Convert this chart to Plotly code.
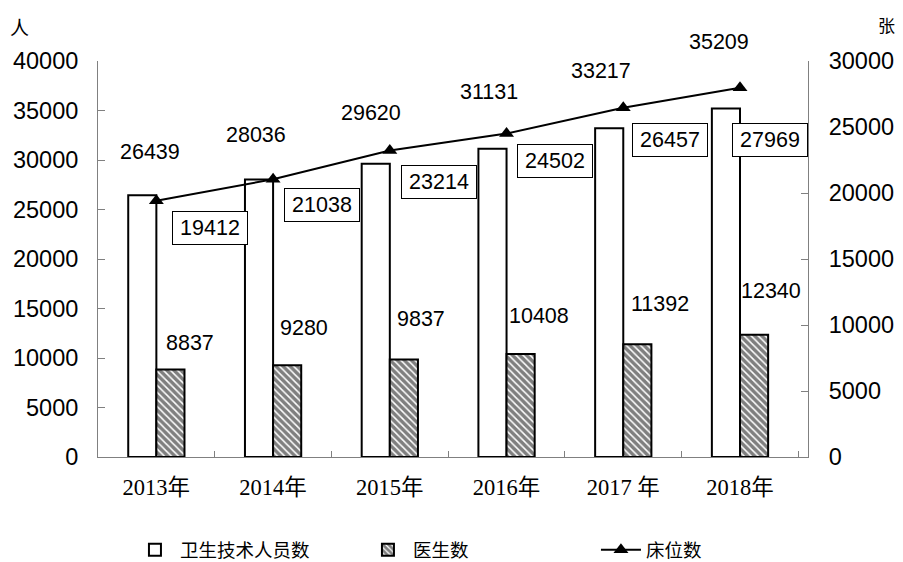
import plotly.graph_objects as go

years = ["2013年", "2014年", "2015年", "2016年", "2017 年", "2018年"]
tech_staff = [26439, 28036, 29620, 31131, 33217, 35209]
doctors = [8837, 9280, 9837, 10408, 11392, 12340]
beds = [19412, 21038, 23214, 24502, 26457, 27969]

# label placement offsets (pixels) relative to category centre / value
tech_dx = [-6, -17.5, -19, -18, -22.5, -21]
tech_dy = [43, 44, 51, 57, 57, 66]
doc_dx = [34, 31, 31, 32, 37, 31]
doc_dy = [27, 37, 41, 38, 40, 44]
bed_dx = [54, 48.5, 48.7, 48.5, 47, 30]
bed_dy = [-27, -26, -31, -27, -32, -52]

NUM_FONT = "Liberation Sans, Arial, sans-serif"
CJK_FONT = "Noto Sans CJK SC, sans-serif"

fig = go.Figure()
fig.add_trace(go.Bar(
    x=years, y=tech_staff, name="卫生技术人员数",
    marker=dict(color="white", line=dict(color="black", width=2)),
    yaxis="y",
))
fig.add_trace(go.Bar(
    x=years, y=doctors, name="医生数",
    marker=dict(color="white", line=dict(color="black", width=2),
                pattern=dict(shape="\\", fgcolor="black", bgcolor="white",
                             size=5, solidity=0.7)),
    yaxis="y",
))
fig.add_trace(go.Scatter(
    x=years, y=beds, name="床位数", mode="lines+markers",
    line=dict(color="black", width=2),
    marker=dict(symbol="triangle-up", size=13, color="black"),
    yaxis="y2",
))

ann = []
for i, yr in enumerate(years):
    ann.append(dict(x=yr, y=tech_staff[i], xref="x", yref="y", text=str(tech_staff[i]),
                    showarrow=False, xanchor="center", yanchor="middle",
                    xshift=tech_dx[i], yshift=tech_dy[i],
                    font=dict(family=NUM_FONT, size=21.5, color="black")))
    ann.append(dict(x=yr, y=doctors[i], xref="x", yref="y", text=str(doctors[i]),
                    showarrow=False, xanchor="center", yanchor="middle",
                    xshift=doc_dx[i], yshift=doc_dy[i],
                    font=dict(family=NUM_FONT, size=21.5, color="black")))
    ann.append(dict(x=yr, y=beds[i], xref="x", yref="y2", text=str(beds[i]),
                    showarrow=False, xanchor="center", yanchor="middle",
                    xshift=bed_dx[i], yshift=bed_dy[i],
                    bgcolor="white", bordercolor="black", borderwidth=1,
                    borderpad=5, width=64, height=22,
                    font=dict(family=NUM_FONT, size=21.5, color="black")))
ann.append(dict(x=-0.11, y=1.088, xref="paper", yref="paper", text="人", showarrow=False,
                xanchor="center", yanchor="middle", font=dict(family=CJK_FONT, size=19, color="black")))
ann.append(dict(x=1.111, y=1.091, xref="paper", yref="paper", text="张", showarrow=False,
                xanchor="center", yanchor="middle", font=dict(family=CJK_FONT, size=17, color="black")))

fig.update_layout(
    width=903, height=562,
    margin=dict(l=98, r=95, t=61, b=105, autoexpand=False),
    paper_bgcolor="white", plot_bgcolor="white",
    barmode="group", bargap=0.518, bargroupgap=0,
    annotations=ann,
    xaxis=dict(type="category", showgrid=False, showline=True, linecolor="#808080", linewidth=1,
               ticks="inside", tickson="boundaries", ticklen=6, tickcolor="#808080",
               tickfont=dict(family="Liberation Serif, Noto Sans CJK SC, serif", size=22.5, color="black"),
               ticklabelstandoff=10, automargin=False),
    yaxis=dict(range=[0, 40000], dtick=5000, tickformat="d", showgrid=False, zeroline=False,
               showline=True, linecolor="#808080", linewidth=1, ticks="inside", ticklen=7,
               tickcolor="#808080", automargin=False,
               tickfont=dict(family=NUM_FONT, size=23.5, color="black"), ticklabelstandoff=14),
    yaxis2=dict(range=[0, 30000], dtick=5000, tickformat="d", overlaying="y", side="right",
                showgrid=False, zeroline=False, showline=True, linecolor="#808080", linewidth=1,
                ticks="inside", ticklen=7, tickcolor="#808080", automargin=False,
                tickfont=dict(family=NUM_FONT, size=23.5, color="black"), ticklabelstandoff=15),
    legend=dict(orientation="h", x=0.045, xanchor="left", yref="container", y=0.021,
                yanchor="middle",
                font=dict(family=CJK_FONT, size=18.5, color="black"), entrywidth=178,
                itemwidth=40, bgcolor="rgba(0,0,0,0)"),
)

fig.write_html("out.html", config={"displayModeBar": False},
               post_script="document.body.style.margin='0px';document.body.style.overflow='hidden';")
